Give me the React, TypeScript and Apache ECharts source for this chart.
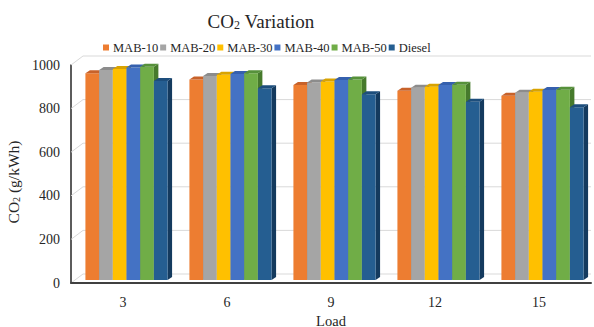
import React, { useEffect, useRef } from "react";
import * as echarts from "echarts";

const categories = ["3", "6", "9", "12", "15"];
const seriesNames = ["MAB-10", "MAB-20", "MAB-30", "MAB-40", "MAB-50", "Diesel"];
const mab10 = [948, 920, 894, 868, 845];
const mab20 = [963, 936, 906, 882, 859];
const mab30 = [968, 941, 910, 887, 864];
const mab40 = [975, 945, 917, 894, 871];
const mab50 = [978, 948, 920, 896, 873];
const diesel = [913, 880, 852, 818, 792];
const yTicks = [0, 200, 400, 600, 800, 1000];

const seriesValues = [mab10, mab20, mab30, mab40, mab50, diesel];
const frontColors = ["#ED7D31", "#A5A5A5", "#FFC000", "#4472C4", "#70AD47", "#255E91"];
const topColors = ["#C8622A", "#8C8C8C", "#D9A300", "#3560AE", "#56913A", "#1D4E7C"];
const sideColors = ["#A9551F", "#767676", "#B38600", "#2A4F91", "#467A2C", "#143A5E"];

const FONT = "Liberation Serif";
const DEPTH_X = 12;
const DEPTH_Y = 9;
const BAR_DX = 4.5;
const BAR_DY = 3;
const SHIFT_X = 3.5;
const SHIFT_Y = 3;

export default function App() {
  const ref = useRef<HTMLDivElement>(null);
  useEffect(() => {
    if (!ref.current) return;
    document.body.style.margin = "0";
    const chart = echarts.init(ref.current, null, { renderer: "svg" });

    const wallSeries = {
      type: "custom",
      name: "wall",
      silent: true,
      z: 1,
      data: yTicks.map((v) => [0, v]),
      encode: { x: 0, y: 1 },
      renderItem: (params: any, api: any) => {
        const p = api.coord([0, api.value(1)]);
        const band = api.size([1, 0])[0];
        const x0 = p[0] - band / 2;
        const x1 = x0 + band * categories.length;
        return {
          type: "group",
          children: [
            {
              type: "line",
              shape: { x1: x0, y1: p[1], x2: x0 + DEPTH_X, y2: p[1] - DEPTH_Y },
              style: { stroke: "#D9D9D9", lineWidth: 1 },
            },
            {
              type: "line",
              shape: { x1: x0 + DEPTH_X, y1: p[1] - DEPTH_Y, x2: x1, y2: p[1] - DEPTH_Y },
              style: { stroke: "#D9D9D9", lineWidth: 1 },
            },
          ],
        };
      },
    };

    const barSeries = seriesNames.map((name, si) => ({
      type: "custom",
      name,
      z: 2,
      itemStyle: { color: frontColors[si] },
      data: seriesValues[si].map((v, ci) => [ci, v]),
      encode: { x: 0, y: 1 },
      renderItem: (params: any, api: any) => {
        const ci = api.value(0);
        const v = api.value(1);
        const base = api.coord([ci, 0]);
        const top = api.coord([ci, v]);
        const band = api.size([1, 0])[0];
        const bw = (band * 0.79) / seriesNames.length;
        const x = base[0] - (seriesNames.length / 2) * bw + si * bw + SHIFT_X;
        const yb = base[1] - SHIFT_Y;
        const yt = top[1] - SHIFT_Y;
        return {
          type: "group",
          children: [
            {
              type: "polygon",
              shape: {
                points: [
                  [x + bw, yb],
                  [x + bw + BAR_DX, yb - BAR_DY],
                  [x + bw + BAR_DX, yt - BAR_DY],
                  [x + bw, yt],
                ],
              },
              style: { fill: sideColors[si] },
            },
            {
              type: "rect",
              shape: { x, y: yt, width: bw, height: yb - yt },
              style: { fill: frontColors[si] },
            },
            {
              type: "polygon",
              shape: {
                points: [
                  [x, yt],
                  [x + BAR_DX, yt - BAR_DY],
                  [x + bw + BAR_DX, yt - BAR_DY],
                  [x + bw, yt],
                ],
              },
              style: { fill: topColors[si] },
            },
          ],
        };
      },
    }));

    chart.setOption({
      animation: false,
      backgroundColor: "#ffffff",
      title: {
        text: "{a|CO}{s|2}{a| Variation}",
        left: 256,
        top: 2,
        textAlign: "center",
        textStyle: {
          fontFamily: FONT,
          fontWeight: "normal",
          rich: {
            a: { fontSize: 19, fontFamily: FONT, fontWeight: "normal", color: "#262626", lineHeight: 24, verticalAlign: "bottom" },
            s: { fontSize: 12, fontFamily: FONT, fontWeight: "normal", color: "#262626", lineHeight: 13, verticalAlign: "bottom" },
          },
        },
      },
      legend: {
        data: seriesNames,
        top: 36,
        left: 98,
        icon: "rect",
        itemWidth: 6,
        itemHeight: 6,
        itemGap: 2,
        textStyle: { fontSize: 12.5, fontFamily: FONT, color: "#262626", padding: [0, 0, 0, -1] },
      },
      grid: { left: 71, right: 3, top: 65, bottom: 44, containLabel: false, outerBoundsMode: "none" },
      xAxis: {
        type: "category",
        data: categories,
        name: "Load",
        nameLocation: "middle",
        nameGap: 24,
        nameTextStyle: { fontSize: 14.5, lineHeight: 14, fontFamily: FONT, color: "#262626" },
        axisLine: { show: true, lineStyle: { color: "#404040", width: 2 } },
        axisTick: { show: false },
        axisLabel: { fontSize: 14, fontFamily: FONT, color: "#262626", margin: 12 },
        splitLine: { show: false },
        z: 5,
      },
      yAxis: {
        type: "value",
        min: 0,
        max: 1000,
        interval: 200,
        name: "{a|CO}{s|2}{a| (g/kWh)}",
        nameLocation: "middle",
        nameGap: 46,
        nameTextStyle: {
          padding: [0, 16, 0, 0],
          rich: {
            a: { fontSize: 15.5, fontFamily: FONT, color: "#262626", lineHeight: 20, verticalAlign: "bottom" },
            s: { fontSize: 10, fontFamily: FONT, color: "#262626", lineHeight: 11, verticalAlign: "bottom" },
          },
        },
        axisLine: { show: true, lineStyle: { color: "#262626", width: 1.5 } },
        axisTick: { show: false },
        axisLabel: {
          fontSize: 14,
          fontFamily: FONT,
          color: "#262626",
          margin: 11,
          formatter: (v: number) => String(v),
        },
        splitLine: { show: false },
      },
      series: [wallSeries, ...barSeries],
    });
    return () => chart.dispose();
  }, []);
  return <div ref={ref} style={{ width: 594, height: 327 }} />;
}
